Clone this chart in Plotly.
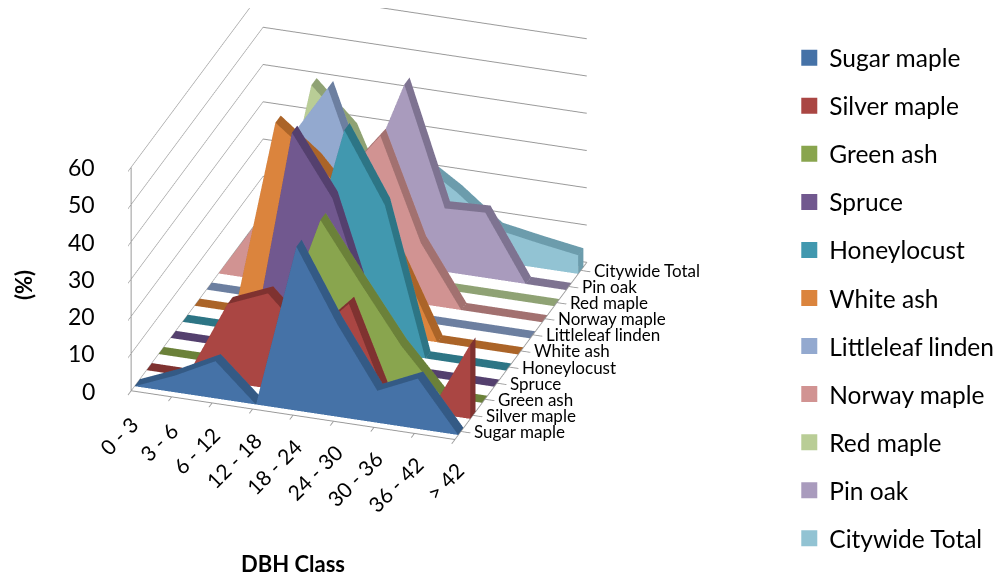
import plotly.graph_objects as go

categories = ["0 - 3", "3 - 6", "6 - 12", "12 - 18", "18 - 24", "24 - 30", "30 - 36", "36 - 42", "> 42"]
species = ["Sugar maple", "Silver maple", "Green ash", "Spruce", "Honeylocust", "White ash",
           "Littleleaf linden", "Norway maple", "Red maple", "Pin oak", "Citywide Total"]
percent_ticks = [0, 10, 20, 30, 40, 50, 60]
sugar_maple = [0, 4.5, 10, 0, 44, 25, 8.6, 13.5, 0]
silver_maple = [0, 0, 21, 25.5, 15, 26, 0, 0, 20]
green_ash = [0, 0, 0, 12, 42.5, 27, 12, 0, 0]
spruce = [0, 0, 0, 60, 44, 12, 0, 0, 0]
honeylocust = [0, 0, 0, 18.5, 58, 39.5, 0, 0, 0]
white_ash = [0, 0, 52.4, 44, 32, 22, 0, 0, 0]
littleleaf_linden = [0, 0, 43, 59, 30, 0, 0, 0, 0]
norway_maple = [0, 16, 21, 30, 43.5, 16.4, 0, 0, 0]
red_maple = [0, 0, 49.5, 39, 15, 0, 0, 0, 0]
pin_oak = [0, 0, 0, 21, 48.6, 17, 17.5, 0, 0]
citywide_total = [0, 3, 10, 20, 24, 17, 8.6, 6.7, 5]
values = [sugar_maple, silver_maple, green_ash, spruce, honeylocust, white_ash,
          littleleaf_linden, norway_maple, red_maple, pin_oak, citywide_total]
face_colors = ["#4572A7", "#AA4643", "#89A54E", "#71588F", "#4198AF", "#DB843D",
               "#93A9CF", "#D19392", "#B9CD96", "#A99BBD", "#92C3D3"]
top_colors = ["#345A85", "#7F3230", "#6B8139", "#54406E", "#2D7585", "#AB6428",
              "#6C7FA0", "#A27170", "#8FA274", "#7E7391", "#6C9CAC"]
half_depth = 0.22

fig = go.Figure()
for i, (name, vals, fc, tc) in enumerate(zip(species, values, face_colors, top_colors)):
    xs, ys, zs, I, J, K, colors = [], [], [], [], [], [], []
    y0, y1 = i - half_depth, i + half_depth
    for j, v in enumerate(vals):
        xs += [j, j, j, j]
        ys += [y0, y0, y1, y1]
        zs += [0, v, 0, v]
    def quad(a, b, c, d, col):
        I.extend([a, a]); J.extend([b, c]); K.extend([c, d]); colors.extend([col, col])
    for j in range(len(vals) - 1):
        p = 4 * j
        q = p + 4
        quad(p, q, q + 1, p + 1, fc)              # front
        quad(p + 2, q + 2, q + 3, p + 3, fc)      # back
        quad(p + 1, q + 1, q + 3, p + 3, tc)      # top
    e = 4 * (len(vals) - 1)
    quad(e, e + 2, e + 3, e + 1, tc)              # right end
    quad(0, 2, 3, 1, tc)                          # left end
    fig.add_trace(go.Mesh3d(x=xs, y=ys, z=zs, i=I, j=J, k=K, facecolor=colors, flatshading=True,
                            name=name, showlegend=False, showscale=False,
                            lighting=dict(ambient=1, diffuse=0, specular=0, roughness=1, fresnel=0)))
    fig.add_trace(go.Scatter(x=[None], y=[None], mode="markers", name=name, legendgroup=name,
                             marker=dict(symbol="square", size=16, color=fc), showlegend=True))

axis_line = "#9A9A9A"
scene_notes = []
for j, label in enumerate(categories):
    L = 9.5 * len(label)
    scene_notes.append(dict(x=j, y=-0.5, z=0, text=label, showarrow=False, textangle=-45,
                            xanchor="center", yanchor="middle",
                            xshift=4 - 0.35 * L, yshift=-(28 + 0.35 * L),
                            font=dict(size=21, family="Lato", color="black")))
for i, label in enumerate(species):
    scene_notes.append(dict(x=8, y=i, z=0, text=label, showarrow=False, xanchor="left", yanchor="middle",
                            xshift=11, font=dict(size=17, family="Lato", color="black")))
for v in percent_ticks:
    scene_notes.append(dict(x=0, y=-0.5, z=v, text=str(v), showarrow=False, xanchor="right", yanchor="middle",
                            xshift=-34, font=dict(size=23, family="Lato", color="black")))

tick_style = dict(ticks="outside", ticklen=10, tickwidth=2, tickcolor=axis_line)
fig.update_layout(
    width=994, height=569, paper_bgcolor="white", plot_bgcolor="white",
    margin=dict(l=0, r=0, t=0, b=0),
    font=dict(family="Lato", color="black"),
    xaxis=dict(visible=False), yaxis=dict(visible=False),
    legend=dict(x=0.786, y=0.952, xanchor="left", yanchor="top", tracegroupgap=13.2,
                font=dict(size=24.5, family="Lato"), bgcolor="rgba(0,0,0,0)"),
    scene=dict(
        domain=dict(x=[0, 0.706], y=[0, 1]),
        aspectmode="manual", aspectratio=dict(x=1.2, y=1.46, z=0.88),
        camera=dict(eye=dict(x=0.52, y=-1.553, z=0.519), center=dict(x=0, y=0, z=-0.306),
                    up=dict(x=0, y=0, z=1), projection=dict(type="orthographic")),
        annotations=scene_notes,
        xaxis=dict(title="", range=[0, 8], tickvals=list(range(9)), showticklabels=False,
                   showgrid=False, zeroline=False, showline=True, linecolor=axis_line, linewidth=2,
                   showbackground=False, showspikes=False, **tick_style),
        yaxis=dict(title="", range=[-0.5, 10.5], tickvals=list(range(11)), showticklabels=False,
                   showgrid=False, zeroline=False, showline=True, linecolor=axis_line, linewidth=2,
                   showbackground=False, showspikes=False, **tick_style),
        zaxis=dict(title="", range=[0, 60], tickvals=percent_ticks, showticklabels=False,
                   showgrid=True, gridcolor=axis_line, gridwidth=2, zeroline=False, showline=True, linecolor=axis_line,
                   linewidth=2, showbackground=False, showspikes=False, **tick_style),
    ),
    annotations=[
        dict(text="<b>DBH Class</b>", x=285 / 994, y=1 - 555 / 569, xref="paper", yref="paper", showarrow=False,
             xanchor="center", yanchor="middle", font=dict(size=22, family="Lato")),
        dict(text="<b>(%)</b>", x=16 / 994, y=1 - 277 / 569, xref="paper", yref="paper", showarrow=False,
             xanchor="center", yanchor="middle", textangle=-90, font=dict(size=22, family="Lato")),
    ],
)
fig.write_html("out.html")
